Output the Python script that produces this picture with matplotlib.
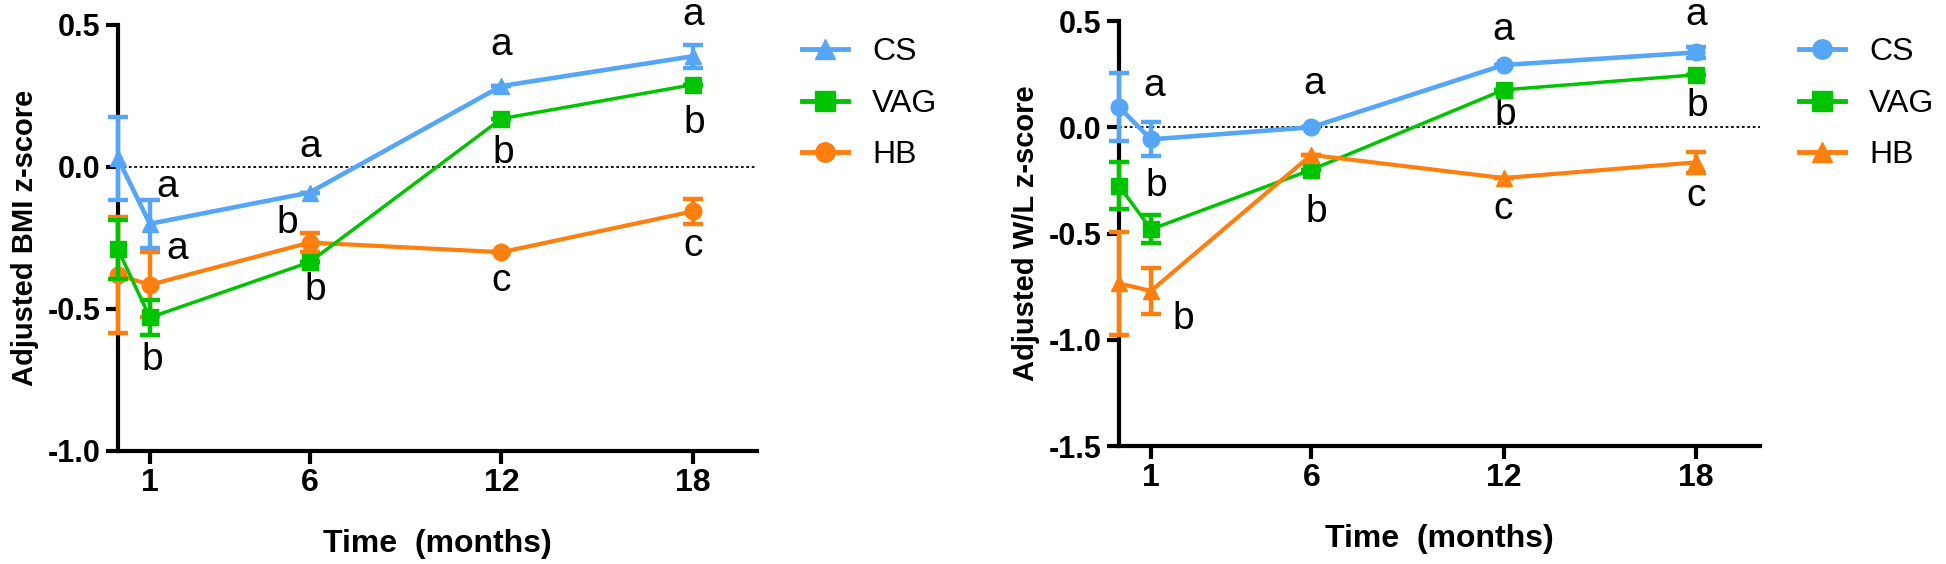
import matplotlib
matplotlib.use("Agg")
import matplotlib.pyplot as plt
from matplotlib.lines import Line2D

# time points (months)
months = [0, 1, 6, 12, 18]
tick_months = [1, 6, 12, 18]
groups = ["CS", "VAG", "HB"]

# Adjusted BMI z-score
bmi_cs = [0.03, -0.20, -0.09, 0.285, 0.39]
bmi_cs_err = [0.145, 0.085, 0.0, 0.0, 0.04]
bmi_vag = [-0.29, -0.53, -0.335, 0.17, 0.29]
bmi_vag_err = [0.105, 0.06, 0.0, 0.0, 0.0]
bmi_hb = [-0.38, -0.415, -0.266, -0.30, -0.156]
bmi_hb_err = [0.205, 0.115, 0.033, 0.0, 0.045]

# Adjusted W/L z-score
wl_cs = [0.095, -0.057, 0.0, 0.293, 0.352]
wl_cs_err = [0.16, 0.08, 0.0, 0.0, 0.025]
wl_vag = [-0.275, -0.48, -0.20, 0.176, 0.247]
wl_vag_err = [0.11, 0.065, 0.0, 0.0, 0.0]
wl_hb = [-0.735, -0.77, -0.13, -0.239, -0.165]
wl_hb_err = [0.243, 0.108, 0.0, 0.0, 0.05]

# significance letters (x, y, letter)
bmi_letters = [(1.53, -0.07, "a"), (1.85, -0.29, "a"), (1.06, -0.68, "b"),
               (6.02, 0.07, "a"), (5.3, -0.197, "b"), (6.17, -0.433, "b"),
               (12.0, 0.43, "a"), (12.05, 0.05, "b"), (12.0, -0.40, "c"),
               (18.0, 0.535, "a"), (18.05, 0.155, "b"), (18.0, -0.28, "c")]
wl_letters = [(1.1, 0.195, "a"), (1.16, -0.275, "b"), (2.0, -0.90, "b"),
              (6.1, 0.205, "a"), (6.17, -0.40, "b"),
              (12.0, 0.46, "a"), (12.05, 0.06, "b"), (12.0, -0.384, "c"),
              (18.0, 0.53, "a"), (18.05, 0.10, "b"), (18.0, -0.325, "c")]

blue = "#55A6F7"
green = "#00C400"
orange = "#FF7F0E"

bold_narrow = ["Liberation Sans Narrow", "Liberation Sans", "DejaVu Sans"]
plt.rcParams["font.family"] = ["Liberation Sans", "DejaVu Sans"]

fig = plt.figure(figsize=(19.46, 5.64), dpi=100)
ax1 = fig.add_axes([0.0606, 0.2004, 0.3284, 0.7553])
ax2 = fig.add_axes([0.5750, 0.2092, 0.3294, 0.7535])


def draw_series(ax, y, err, color, marker, lw, z):
    ax.errorbar(months, y, yerr=err, color=color, marker=marker, markersize=12,
                linewidth=lw, elinewidth=3.2, capsize=7, capthick=3.2,
                zorder=z, clip_on=False)


def style_axis(ax, ylim, yticks, ylabel, letters, styles, legend_x):
    ax.set_xlim(0, 20)
    ax.set_ylim(*ylim)
    ax.axhline(0, color="black", linestyle=(0, (1.5, 1.5)), linewidth=1.3, zorder=1)
    ax.spines["top"].set_visible(False)
    ax.spines["right"].set_visible(False)
    for s in ("left", "bottom"):
        ax.spines[s].set_linewidth(3)
    ax.set_xticks(tick_months)
    ax.set_yticks(yticks)
    ax.set_yticklabels(["%.1f" % t for t in yticks])
    ax.tick_params(width=3, length=9)
    for lab in ax.get_xticklabels():
        lab.set_fontfamily(bold_narrow)
        lab.set_fontweight("bold")
        lab.set_fontsize(23)
    for lab in ax.get_yticklabels():
        lab.set_fontfamily(bold_narrow)
        lab.set_fontweight("bold")
        lab.set_fontsize(22)
    ax.set_xlabel("Time  (months)", fontsize=23, fontweight="bold",
                  family=bold_narrow, labelpad=22)
    ax.set_ylabel(ylabel, fontsize=21, fontweight="bold", labelpad=6)
    for x, y, t in letters:
        ax.text(x, y, t, fontsize=28, ha="center", va="center", clip_on=False)
    handles = [Line2D([], [], color=c, marker=m, markersize=14, linewidth=3.5)
               for c, m in styles]
    fig.legend(handles, groups, loc="upper left",
               bbox_to_anchor=(legend_x, 1 - 37 / 564), frameon=False,
               fontsize=23, handlelength=1.45, labelspacing=0.68,
               handletextpad=0.75, borderpad=0, borderaxespad=0)


draw_series(ax1, bmi_hb, bmi_hb_err, orange, "o", 3, 3)
draw_series(ax1, bmi_vag, bmi_vag_err, green, "s", 2.5, 4)
draw_series(ax1, bmi_cs, bmi_cs_err, blue, "^", 3.3, 5)
style_axis(ax1, (-1.0, 0.5), [0.5, 0.0, -0.5, -1.0], "Adjusted BMI z-score",
           bmi_letters, [(blue, "^"), (green, "s"), (orange, "o")], 802 / 1946)

draw_series(ax2, wl_vag, wl_vag_err, green, "s", 2.5, 3)
draw_series(ax2, wl_hb, wl_hb_err, orange, "^", 3, 4)
draw_series(ax2, wl_cs, wl_cs_err, blue, "o", 3.3, 5)
style_axis(ax2, (-1.5, 0.5), [0.5, 0.0, -0.5, -1.0, -1.5], "Adjusted W/L z-score",
           wl_letters, [(blue, "o"), (green, "s"), (orange, "^")], 1799 / 1946)

fig.savefig("out.png", dpi=100)
